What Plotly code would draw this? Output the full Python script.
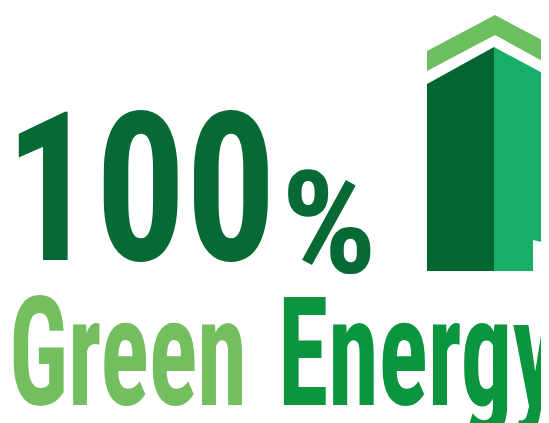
import json
import plotly.graph_objects as go

W, H = 549, 423

# Text content
big_number = "100"
percent_sign = "%"
word_light = "Green"
word_dark = "Energy"

# Logo geometry (picture coordinates, y downward)
roof_x = [419, 487, 549, 549, 487, 419]
roof_y = [43, 7, 40, 61, 27, 63]
dark_face_x = [419, 486, 486, 419]
dark_face_y = [76, 39, 263, 263]
light_face_x = [486, 549, 549, 541, 541, 525, 525, 486]
light_face_y = [39, 73, 263, 263, 236, 232, 263, 263]

colors = {
    "roof": "#6cbe5e",
    "dark": "#03652f",
    "light": "#16ae68",
    "num": "#076a35",
    "green": "#73bf5f",
    "energy": "#0a953e",
}

fig = go.Figure()
for xs, ys, c in [(roof_x, roof_y, colors["roof"]),
                  (dark_face_x, dark_face_y, colors["dark"]),
                  (light_face_x, light_face_y, colors["light"])]:
    fig.add_trace(go.Scatter(x=xs, y=ys, fill="toself", mode="lines",
                             line=dict(width=0, color=c), fillcolor=c,
                             hoverinfo="skip", showlegend=False))

FONT = "Roboto Condensed, Open Sans Condensed, sans-serif"

# (text, x, y_center, size, color, horizontal condensing, x shift in px)
labels = [
    (big_number, 0, 181, 208, colors["num"], 0.86, -5),
    (percent_sign, 271, 216, 143, colors["num"], 1.05, 0),
    (word_light, 0, 344, 153, colors["green"], 0.66, -1),
    (word_dark, 268, 344, 153, colors["energy"], 0.67, 0),
]
for txt, x, y, size, col, _, dx in labels:
    fig.add_annotation(x=x, y=y, xshift=dx, text=txt, showarrow=False, xanchor="left", yanchor="middle",
                       font=dict(family=FONT, size=size, color=col, weight="bold"))

fig.update_layout(
    width=W, height=H, margin=dict(l=0, r=0, t=0, b=0),
    paper_bgcolor="white", plot_bgcolor="white",
    xaxis=dict(range=[0, W], visible=False, fixedrange=True),
    yaxis=dict(range=[H, 0], visible=False, fixedrange=True),
    showlegend=False,
)

scales = json.dumps({l[0]: l[5] for l in labels})
post = """
var sc = %s;
function condense(){
  var ts = document.querySelectorAll('.annotation-text');
  ts.forEach(function(t){
    if (t.getAttribute('data-cond')) return;
    var s = sc[t.textContent];
    if (!s) return;
    var b = t.getBBox();
    var x0 = b.x;
    var prev = t.getAttribute('transform') || '';
    t.setAttribute('transform', prev + ' translate(' + x0 + ',0) scale(' + s + ',1) translate(' + (-x0) + ',0)');
    t.setAttribute('data-cond', '1');
  });
}
condense();
""" % scales
fig.write_html("out.html", post_script=post, config={"staticPlot": True})
